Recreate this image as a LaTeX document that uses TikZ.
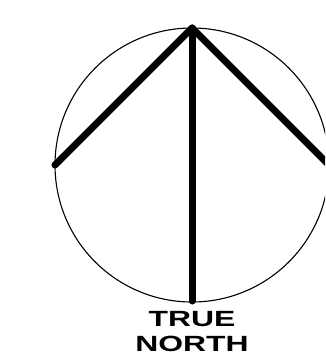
\documentclass[tikz,border=0pt]{standalone}
\usepackage{fontspec}
\setmainfont{Liberation Sans}
\begin{document}
\begin{tikzpicture}[x=1pt,y=-1pt,
  thin line/.style={line width=1.1pt},
  arm/.style={line width=7pt,line cap=round,line join=round},
  label/.style={font=\fontsize{22}{25}\selectfont\bfseries,inner sep=0pt,anchor=base}]
\useasboundingbox (0,0) rectangle (325,358);
\clip (0,0) rectangle (325,358);
\coordinate (c) at (192,165);
\coordinate (apex) at (192,28);
\coordinate (left) at (55,165);
\coordinate (right) at (329,165);
\coordinate (bottom) at (192,301);
\draw[thin line] (c) circle[radius=137];
\draw[arm] (left) -- (apex) -- (right);
\draw[arm] (apex) -- (bottom);
\node[label] (t1) at (192,326) {\scalebox{1.45}[1]{TRUE}};
\node[label] (t2) at (192,351) {\scalebox{1.45}[1]{NORTH}};
\end{tikzpicture}
\end{document}
